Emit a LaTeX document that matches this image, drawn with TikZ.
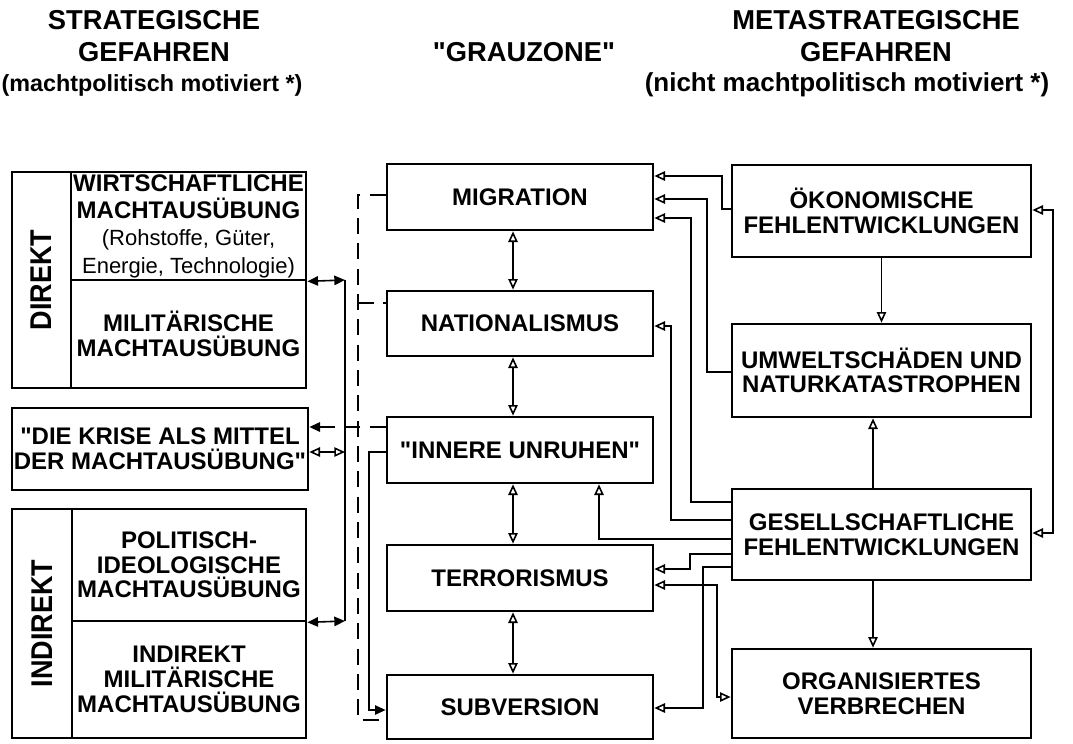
\documentclass[tikz,border=0pt]{standalone}
\usepackage{fontspec}
\setmainfont{Liberation Sans}
\usetikzlibrary{arrows.meta,calc}

\newcommand{\dgbox}{\fontsize{18}{18.5}\selectfont\bfseries}
\newcommand{\dghead}{\fontsize{20.5}{22}\selectfont\bfseries}
\newcommand{\dgside}{\fontsize{22.5}{24}\selectfont\bfseries}
\newcommand{\dgsmall}{\fontsize{16.5}{18}\selectfont\mdseries}

\tikzset{every picture/.style={line width=0.75pt},
  box/.style={draw, line width=2pt, inner sep=0pt, align=center, font=\dgbox},
  midbox/.style={box, minimum width=199.5pt, minimum height=49.5pt},
  rightbox/.style={box, minimum width=224.25pt, minimum height=69pt},
  head/.style={inner sep=0pt, align=center, font=\dghead},
  link/.style={line width=1.2pt},
  dashlink/.style={line width=1.5pt, dash pattern=on 12pt off 7pt},
  >={Triangle[open, length=8pt, width=7pt]},
  fullboth/.style={{Triangle[length=8pt, width=7pt]}-{Triangle[length=8pt, width=7pt]}},
  fullend/.style={-{Triangle[length=8pt, width=7pt]}}
}

\begin{document}
\begin{tikzpicture}[x=0.75pt,y=0.75pt,yscale=-1,xscale=1]
\useasboundingbox (0,0) rectangle (1073,743);

% Headings
\node[head] (hstr1) at (154,20) {STRATEGISCHE};
\node[head] (hstr2) at (154,52) {GEFAHREN};
\node[head, font=\fontsize{17.5}{19}\selectfont\bfseries] (hstr3) at (152,85) {(machtpolitisch motiviert *)};
\node[head] (hgrau) at (524,52) {\textquotedbl GRAUZONE\textquotedbl};
\node[head] (hmeta1) at (876,20) {METASTRATEGISCHE};
\node[head] (hmeta2) at (876,52) {GEFAHREN};
\node[head, font=\fontsize{19.5}{21}\selectfont\bfseries] (hmeta3) at (847,85) {(nicht machtpolitisch motiviert *)};

% Left column
\node[box, rotate=90, minimum width=162pt, minimum height=44.25pt, font=\dgside] (dirl) at (41.5,280) {\scalebox{0.9}[1]{DIREKT}};
\node[box, minimum width=176.25pt, minimum height=81pt, font=\fontsize{18}{20.5}\selectfont\bfseries] (wirt) at (188.5,226) {WIRTSCHAFTLICHE\\MACHTAUSÜBUNG\\{\dgsmall (Rohstoffe, Güter,}\\{\dgsmall Energie, Technologie)}};
\node[box, minimum width=176.25pt, minimum height=81pt] (milit) at (188.5,334) {MILITÄRISCHE\\MACHTAUSÜBUNG};
\node[box, minimum width=222pt, minimum height=61.5pt] (krise) at (160,449) {\textquotedbl DIE KRISE ALS MITTEL\\DER MACHTAUSÜBUNG\textquotedbl};
\node[box, rotate=90, minimum width=171.75pt, minimum height=45pt, font=\dgside] (indl) at (42,623.5) {\scalebox{0.9}[1]{INDIREKT}};
\node[box, minimum width=175.5pt, minimum height=84pt] (polit) at (189,565) {POLITISCH-\\IDEOLOGISCHE\\MACHTAUSÜBUNG};
\node[box, minimum width=175.5pt, minimum height=87.75pt] (indmil) at (189,679.5) {INDIREKT\\MILITÄRISCHE\\MACHTAUSÜBUNG};

% Middle column
\node[midbox] (mig) at (520,197) {MIGRATION};
\node[midbox, minimum height=48.75pt] (nat) at (520,323.5) {NATIONALISMUS};
\node[midbox] (inn) at (520,450) {\textquotedbl INNERE UNRUHEN\textquotedbl};
\node[midbox] (ter) at (520,578) {TERRORISMUS};
\node[midbox, minimum height=48pt] (sub) at (520,707) {SUBVERSION};

% Right column
\node[rightbox] (oeko) at (881.5,211) {ÖKONOMISCHE\\FEHLENTWICKLUNGEN};
\node[rightbox, minimum height=69.75pt] (umw) at (881.5,370.5) {UMWELTSCHÄDEN UND\\NATURKATASTROPHEN};
\node[rightbox, minimum height=68.25pt] (ges) at (881.5,534.5) {GESELLSCHAFTLICHE\\FEHLENTWICKLUNGEN};
\node[rightbox, minimum height=66.75pt] (org) at (881.5,693.5) {ORGANISIERTES\\VERBRECHEN};

% solid bus on the left
\coordinate (bus1) at (345,280);
\coordinate (bus2) at (345,621);
\coordinate (bus3) at (345,452);
\draw[link, fullboth] (wirt.south east) -- (bus1);
\draw[link] (bus1) -- (bus2);
\draw[link, fullboth] (polit.south east) -- (bus2);
\draw[link, <->] (bus3 -| krise.east) -- (bus3);

% dashed bus
\coordinate (dtop) at (358,195);
\coordinate (dbot) at (358,720);
\coordinate (dnat) at (358,303);
\coordinate (dkri) at (358,427);
\draw[dashlink] (dtop -| mig.west) -- (dtop) -- (dbot) -- (dbot -| sub.west);
\draw[dashlink] (dnat) -- (dnat -| nat.west);
\draw[dashlink, fullend] (dkri -| inn.west) -- (dkri -| krise.east);

% Subversion - innere Unruhen
\coordinate (sinn) at (369,452);
\coordinate (ssub) at (369,710);
\draw[link, <-, fullend] (sinn -| inn.west) -- (sinn) -- (ssub) -- (ssub -| sub.west);

% middle column arrows
\coordinate (cv) at (513,0);
\foreach \a/\b in {mig/nat, nat/inn, inn/ter, ter/sub}
  \draw[link, <->] (\a.south -| cv) -- (\b.north -| cv);

% right column arrows
\coordinate (rv) at (873,0);
\draw[link, ->] (oeko.south) -- (umw.north);
\draw[link, ->] (ges.north -| rv) -- (umw.south -| rv);
\draw[link, ->] (ges.south -| rv) -- (org.north -| rv);
\coordinate (rl1) at (1053,210);
\coordinate (rl2) at (1053,533);
\draw[link, <->] (rl1 -| oeko.east) -- (rl1) -- (rl2) -- (rl2 -| ges.east);

% right to middle
\foreach \src/\tx/\ys/\yt/\dst in {oeko/722/209/176/mig, umw/707/372/199/mig, ges/691/502/218/mig, ges/671/520/326/nat, ges/690/554/569/ter, ges/703/567/708/sub}{
  \coordinate (ta) at (\tx,\ys);
  \coordinate (tb) at (\tx,\yt);
  \draw[link, ->] (\src.west |- ta) -- (ta) -- (tb) -- (tb -| \dst.east);
}
\coordinate (ginn) at (599,539);
\draw[link, ->] (ges.west |- ginn) -- (ginn) -- (ginn |- inn.south);
\coordinate (tor1) at (717,585);
\coordinate (tor2) at (717,697);
\draw[link, <->] (ter.east |- tor1) -- (tor1) -- (tor2) -- (tor2 -| org.west);

\end{tikzpicture}
\end{document}
